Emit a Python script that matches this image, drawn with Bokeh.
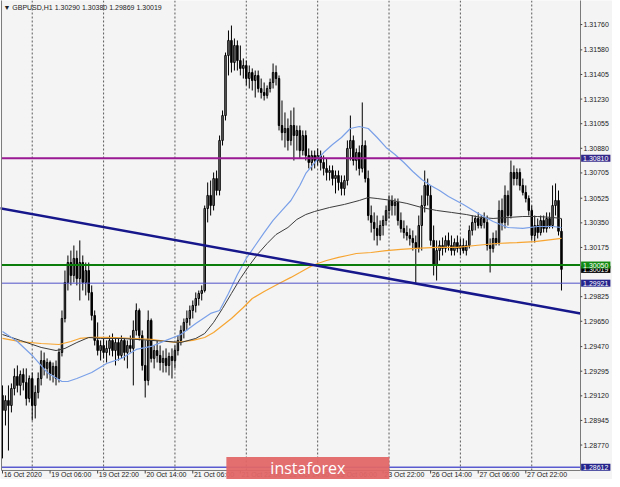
from bokeh.plotting import figure
from bokeh.models import Range1d, Label
from bokeh.core.properties import value
from bokeh.embed import file_html
from bokeh.resources import INLINE

# ---------------- data (GBPUSD H1, one bar per hour from 16 Oct 2020 14:00) ----------------
opens = [
    1.29123, 1.29016, 1.29087, 1.29051, 1.29172, 1.29258, 1.29194, 1.29272, 1.29215, 1.29101,
    1.29243, 1.29051, 1.29144, 1.29243, 1.29371, 1.29315, 1.29357, 1.29272, 1.29329, 1.29243,
    1.29428, 1.29670, 1.29926, 1.30068, 1.29976, 1.30097, 1.29954, 1.30068, 1.29926, 1.30011,
    1.29855, 1.29691, 1.29514, 1.29442, 1.29478, 1.29428, 1.29457, 1.29514, 1.29442, 1.29499,
    1.29407, 1.29514, 1.29428, 1.29478, 1.29457, 1.29585, 1.29727, 1.29549, 1.29336, 1.29229,
    1.29656, 1.29386, 1.29442, 1.29407, 1.29357, 1.29386, 1.29336, 1.29400, 1.29371, 1.29442,
    1.29514, 1.29585, 1.29642, 1.29670, 1.29727, 1.29762, 1.29812, 1.29848, 1.29869, 1.30452,
    1.30545, 1.30473, 1.30665, 1.30580, 1.30936, 1.31113, 1.31540, 1.31647, 1.31490, 1.31611,
    1.31504, 1.31448, 1.31469, 1.31376, 1.31419, 1.31362, 1.31398, 1.31305, 1.31277, 1.31256,
    1.31305, 1.31348, 1.31419, 1.31376, 1.31042, 1.30992, 1.31021, 1.30936, 1.31042, 1.30971,
    1.31007, 1.30864, 1.30971, 1.30829, 1.30779, 1.30829, 1.30793, 1.30829, 1.30779, 1.30737,
    1.30708, 1.30722, 1.30665, 1.30687, 1.30637, 1.30594, 1.30651, 1.30879, 1.30936, 1.30793,
    1.30850, 1.30737, 1.30900, 1.30665, 1.30402, 1.30353, 1.30310, 1.30260, 1.30331, 1.30367,
    1.30438, 1.30509, 1.30473, 1.30495, 1.30367, 1.30310, 1.30281, 1.30260, 1.30239, 1.30210,
    1.30168, 1.30331, 1.30473, 1.30616, 1.30545, 1.30225, 1.30047, 1.30153, 1.30189, 1.30168,
    1.30225, 1.30189, 1.30153, 1.30210, 1.30168, 1.30189, 1.30153, 1.30189, 1.30296, 1.30353,
    1.30381, 1.30331, 1.30381, 1.30353, 1.30189, 1.30168, 1.30239, 1.30210, 1.30438, 1.30353,
    1.30545, 1.30402, 1.30708, 1.30665, 1.30708, 1.30616, 1.30566, 1.30523, 1.30438, 1.30260,
    1.30331, 1.30281, 1.30367, 1.30310, 1.30381, 1.30331, 1.30473, 1.30509, 1.30290,
]
highs = [
    1.29194, 1.29123, 1.29194, 1.29208, 1.29315, 1.29336, 1.29300, 1.29315, 1.29315, 1.29265,
    1.29286, 1.29194, 1.29286, 1.29442, 1.29428, 1.29386, 1.29371, 1.29357, 1.29371, 1.29457,
    1.29727, 1.30011, 1.30118, 1.30153, 1.30189, 1.30153, 1.30225, 1.30118, 1.30068, 1.30068,
    1.29905, 1.29727, 1.29642, 1.29514, 1.29528, 1.29514, 1.29549, 1.29563, 1.29528, 1.29528,
    1.29549, 1.29528, 1.29514, 1.29549, 1.29656, 1.29777, 1.29741, 1.29585, 1.29514, 1.29727,
    1.29670, 1.29478, 1.29514, 1.29478, 1.29442, 1.29457, 1.29428, 1.29457, 1.29478, 1.29549,
    1.29620, 1.29670, 1.29727, 1.29762, 1.29798, 1.29855, 1.29869, 1.29905, 1.30473, 1.30637,
    1.30651, 1.30708, 1.30722, 1.30971, 1.31149, 1.31561, 1.31718, 1.31753, 1.31661, 1.31647,
    1.31611, 1.31519, 1.31504, 1.31469, 1.31448, 1.31433, 1.31433, 1.31376, 1.31348, 1.31327,
    1.31376, 1.31483, 1.31469, 1.31398, 1.31220, 1.31135, 1.31092, 1.31149, 1.31170, 1.31042,
    1.31042, 1.31007, 1.31007, 1.30879, 1.30864, 1.30864, 1.30879, 1.30864, 1.30829, 1.30808,
    1.30758, 1.30758, 1.30722, 1.30722, 1.30687, 1.30687, 1.30936, 1.31113, 1.30971, 1.30879,
    1.30900, 1.31206, 1.30936, 1.30722, 1.30473, 1.30424, 1.30402, 1.30367, 1.30402, 1.30473,
    1.30545, 1.30545, 1.30523, 1.30523, 1.30424, 1.30367, 1.30331, 1.30310, 1.30296, 1.30260,
    1.30402, 1.30545, 1.30722, 1.30665, 1.30616, 1.30331, 1.30225, 1.30225, 1.30246, 1.30260,
    1.30281, 1.30260, 1.30239, 1.30260, 1.30239, 1.30239, 1.30225, 1.30331, 1.30402, 1.30402,
    1.30424, 1.30402, 1.30424, 1.30402, 1.30239, 1.30281, 1.30296, 1.30509, 1.30523, 1.30616,
    1.30580, 1.30793, 1.30758, 1.30737, 1.30737, 1.30665, 1.30616, 1.30545, 1.30473, 1.30402,
    1.30381, 1.30402, 1.30402, 1.30424, 1.30424, 1.30616, 1.30630, 1.30580, 1.30380,
]
lows = [
    1.28675, 1.28909, 1.28731, 1.29002, 1.29123, 1.29144, 1.29123, 1.29158, 1.29051, 1.29073,
    1.28945, 1.28959, 1.29101, 1.29194, 1.29265, 1.29243, 1.29229, 1.29215, 1.29194, 1.29215,
    1.29400, 1.29642, 1.29869, 1.29905, 1.29926, 1.29905, 1.29798, 1.29869, 1.29834, 1.29798,
    1.29656, 1.29478, 1.29407, 1.29371, 1.29386, 1.29357, 1.29407, 1.29400, 1.29336, 1.29371,
    1.29386, 1.29371, 1.29315, 1.29428, 1.29194, 1.29549, 1.29514, 1.29300, 1.29108, 1.29194,
    1.29357, 1.29315, 1.29357, 1.29300, 1.29286, 1.29286, 1.29265, 1.29243, 1.29315, 1.29407,
    1.29478, 1.29528, 1.29585, 1.29620, 1.29670, 1.29713, 1.29762, 1.29798, 1.29855, 1.30353,
    1.30402, 1.30438, 1.30545, 1.30545, 1.30900, 1.31078, 1.31398, 1.31419, 1.31433, 1.31433,
    1.31398, 1.31376, 1.31327, 1.31305, 1.31291, 1.31241, 1.31277, 1.31234, 1.31220, 1.31234,
    1.31277, 1.31305, 1.31327, 1.31007, 1.30936, 1.30886, 1.30864, 1.30900, 1.30793, 1.30864,
    1.30808, 1.30829, 1.30793, 1.30737, 1.30722, 1.30737, 1.30758, 1.30722, 1.30687, 1.30651,
    1.30651, 1.30616, 1.30559, 1.30580, 1.30545, 1.30545, 1.30616, 1.30793, 1.30758, 1.30722,
    1.30687, 1.30708, 1.30637, 1.30367, 1.30281, 1.30225, 1.30189, 1.30225, 1.30260, 1.30331,
    1.30381, 1.30402, 1.30402, 1.30331, 1.30281, 1.30239, 1.30225, 1.30189, 1.30153, 1.29919,
    1.30139, 1.30153, 1.30424, 1.30473, 1.30189, 1.29976, 1.29940, 1.30082, 1.30118, 1.30139,
    1.30153, 1.30118, 1.30118, 1.30139, 1.30118, 1.30132, 1.30118, 1.30168, 1.30260, 1.30296,
    1.30310, 1.30310, 1.30310, 1.30153, 1.29997, 1.30139, 1.30189, 1.30189, 1.30296, 1.30310,
    1.30331, 1.30381, 1.30616, 1.30616, 1.30580, 1.30545, 1.30495, 1.30402, 1.30225, 1.30210,
    1.30239, 1.30260, 1.30281, 1.30281, 1.30310, 1.30310, 1.30402, 1.30260, 1.29869,
]
closes = [
    1.29016, 1.29087, 1.29051, 1.29172, 1.29258, 1.29194, 1.29272, 1.29215, 1.29101, 1.29243,
    1.29051, 1.29144, 1.29243, 1.29371, 1.29315, 1.29357, 1.29272, 1.29329, 1.29243, 1.29428,
    1.29670, 1.29926, 1.30068, 1.29976, 1.30097, 1.29954, 1.30068, 1.29926, 1.30011, 1.29855,
    1.29691, 1.29514, 1.29442, 1.29478, 1.29428, 1.29457, 1.29514, 1.29442, 1.29499, 1.29407,
    1.29514, 1.29428, 1.29478, 1.29457, 1.29585, 1.29727, 1.29549, 1.29336, 1.29229, 1.29656,
    1.29386, 1.29442, 1.29407, 1.29357, 1.29386, 1.29336, 1.29400, 1.29371, 1.29442, 1.29514,
    1.29585, 1.29642, 1.29670, 1.29727, 1.29762, 1.29812, 1.29848, 1.29869, 1.30452, 1.30545,
    1.30473, 1.30665, 1.30580, 1.30936, 1.31113, 1.31540, 1.31647, 1.31490, 1.31611, 1.31504,
    1.31448, 1.31469, 1.31376, 1.31419, 1.31362, 1.31398, 1.31305, 1.31277, 1.31256, 1.31305,
    1.31348, 1.31419, 1.31376, 1.31042, 1.30992, 1.31021, 1.30936, 1.31042, 1.30971, 1.31007,
    1.30864, 1.30971, 1.30829, 1.30779, 1.30829, 1.30793, 1.30829, 1.30779, 1.30737, 1.30708,
    1.30722, 1.30665, 1.30687, 1.30637, 1.30594, 1.30651, 1.30879, 1.30936, 1.30793, 1.30850,
    1.30737, 1.30900, 1.30665, 1.30402, 1.30353, 1.30310, 1.30260, 1.30331, 1.30367, 1.30438,
    1.30509, 1.30473, 1.30495, 1.30367, 1.30310, 1.30281, 1.30260, 1.30239, 1.30210, 1.30168,
    1.30331, 1.30473, 1.30616, 1.30545, 1.30225, 1.30047, 1.30153, 1.30189, 1.30168, 1.30225,
    1.30189, 1.30153, 1.30210, 1.30168, 1.30189, 1.30153, 1.30189, 1.30296, 1.30353, 1.30381,
    1.30331, 1.30381, 1.30353, 1.30189, 1.30168, 1.30239, 1.30210, 1.30438, 1.30353, 1.30545,
    1.30402, 1.30708, 1.30665, 1.30708, 1.30616, 1.30566, 1.30523, 1.30438, 1.30260, 1.30331,
    1.30281, 1.30367, 1.30310, 1.30381, 1.30331, 1.30473, 1.30509, 1.30290, 1.30019,
]

# moving averages (bar index, price)
ma_fast_bars = [0, 5, 10, 15, 20, 22, 25, 30, 35, 40, 45, 50, 55, 60, 65, 70, 73, 76, 79, 82,
                85, 88, 91, 94, 97, 100, 102, 105, 108, 111, 114, 117, 120, 123, 126, 129, 132, 135, 138, 141,
                144, 147, 150, 155, 160, 165, 170, 175, 180, 185, 188]
ma_fast_vals = [1.29578, 1.29506, 1.29407, 1.29286, 1.29222, 1.29222, 1.29243, 1.29286, 1.29350, 1.29386,
                1.29450, 1.29471, 1.29514, 1.29556, 1.29634, 1.29706, 1.29727, 1.29848, 1.29983, 1.30097,
                1.30189, 1.30281, 1.30367, 1.30438, 1.30509, 1.30616, 1.30701, 1.30779, 1.30850, 1.30907,
                1.30957, 1.31021, 1.31035, 1.31021, 1.30957, 1.30886, 1.30836, 1.30779, 1.30715, 1.30658,
                1.30616, 1.30580, 1.30537, 1.30481, 1.30417, 1.30360, 1.30317, 1.30310, 1.30324, 1.30324,
                1.30317]
ma_mid_bars = [0, 6, 13, 18, 21, 25, 29, 33, 40, 50, 56, 60, 65, 68, 71, 74, 77, 80, 83, 86,
               89, 92, 96, 99, 102, 105, 110, 115, 120, 123, 126, 131, 136, 141, 146, 151, 156, 161, 165, 170,
               175, 180, 185, 188]
ma_mid_vals = [1.29556, 1.29514, 1.29464, 1.29442, 1.29457, 1.29499, 1.29535, 1.29528, 1.29528, 1.29514,
               1.29506, 1.29499, 1.29528, 1.29563, 1.29642, 1.29741, 1.29848, 1.29954, 1.30047, 1.30132,
               1.30203, 1.30267, 1.30317, 1.30374, 1.30409, 1.30431, 1.30459, 1.30481, 1.30509, 1.30530,
               1.30523, 1.30509, 1.30488, 1.30459, 1.30438, 1.30424, 1.30409, 1.30388, 1.30381, 1.30388,
               1.30395, 1.30395, 1.30388, 1.30381]
ma_slow_bars = [0, 6, 13, 19, 23, 26, 30, 36, 43, 50, 58, 64, 68, 71, 74, 77, 81, 84, 88, 93,
                97, 100, 103, 106, 109, 113, 116, 119, 124, 129, 134, 139, 146, 153, 159, 166, 173, 179, 188]
ma_slow_vals = [1.29528, 1.29506, 1.29492, 1.29485, 1.29506, 1.29528, 1.29535, 1.29535, 1.29528, 1.29521,
                1.29499, 1.29514, 1.29535, 1.29570, 1.29620, 1.29670, 1.29748, 1.29812, 1.29862, 1.29919,
                1.29962, 1.29997, 1.30033, 1.30061, 1.30082, 1.30104, 1.30118, 1.30132, 1.30139, 1.30153,
                1.30161, 1.30168, 1.30175, 1.30175, 1.30189, 1.30203, 1.30210, 1.30217, 1.30239]

# horizontal levels and trend line (anchor bar, price)
level_prices = [1.30810, 1.30050, 1.29921, 1.28612]
trend_bars = [-1, 194.4]
trend_prices = [1.30454, 1.29706]

# day separators and time scale
day_bars = [10, 34, 58, 82, 106, 130, 154, 178]
time_tick_bars = [0, 16, 32, 48, 64, 80, 96, 112, 128, 144, 160, 176]
time_labels = ["16 Oct 2020", "19 Oct 06:00", "19 Oct 22:00", "20 Oct 14:00", "21 Oct 06:00",
               "21 Oct 22:00", "22 Oct 14:00", "23 Oct 06:00", "23 Oct 22:00", "26 Oct 14:00",
               "27 Oct 06:00", "27 Oct 22:00"]
price_ticks = [1.31760, 1.31580, 1.31405, 1.31230, 1.31055, 1.30880, 1.30705, 1.30525, 1.30350,
               1.30175, 1.29825, 1.29650, 1.29470, 1.29295, 1.29120, 1.28945, 1.28770]

# price tags on the right scale (drawn in this order)
tag_prices = [1.30810, 1.30019, 1.30050, 1.29921, 1.28612]
tag_colors = ["#33278a", "#000000", "#138a13", "#24248c", "#24248c"]

# ---------------- layout constants ----------------
X_START, X_END = -0.673, 205.16         # whole canvas, in bar units
Y_START, Y_END = 1.28525, 1.31931       # whole canvas, in price units
CHART_LEFT, CHART_RIGHT = -0.33, 194.4  # chart window edges (bar units)
CHART_BOTTOM = 1.28589                  # chart window bottom (price)
PPX = 0.0000711                         # price per screen pixel (approx.)
FONT = value("Liberation Sans")

p = figure(width=612, height=479, output_backend="svg", toolbar_location=None,
           x_range=Range1d(X_START, X_END), y_range=Range1d(Y_START, Y_END),
           x_axis_location=None, y_axis_location=None, min_border=0,
           background_fill_color="#f4f4f4", border_fill_color="#f4f4f4")
p.outline_line_color = None
p.grid.visible = False

# day separators
p.segment(x0=day_bars, x1=day_bars, y0=[CHART_BOTTOM] * len(day_bars), y1=[Y_END] * len(day_bars),
          line_color="#5a5a5a", line_dash="2 2", line_width=1)

# candles
bars = list(range(len(closes)))
body_top = [max(o, c) for o, c in zip(opens, closes)]
body_bot = [min(o, c) for o, c in zip(opens, closes)]
fills = ["#8c8c8c" if c >= o else "#000000" for o, c in zip(opens, closes)]
p.segment(x0=bars, y0=lows, x1=bars, y1=highs, line_color="#000000", line_width=1)
p.vbar(x=bars, top=body_top, bottom=body_bot, width=0.5, fill_color=fills,
       line_color="#000000", line_width=1)

# moving averages
p.line(ma_slow_bars, ma_slow_vals, line_color="#f7a531", line_width=1.2)
p.line(ma_mid_bars, ma_mid_vals, line_color="#3c3c3c", line_width=1)
p.line(ma_fast_bars, ma_fast_vals, line_color="#7aa0e8", line_width=1.2)

# horizontal levels
level_colors = ["#9a1a94", "#0a7d0a", "#5252c8", "#5a5ad0"]
level_widths = [2, 2, 1, 1.5]
for lv, lc, lw in zip(level_prices, level_colors, level_widths):
    p.segment(x0=[CHART_LEFT], x1=[CHART_RIGHT], y0=[lv], y1=[lv], line_color=lc, line_width=lw)

# trend line
p.line(trend_bars, trend_prices, line_color="#17178c", line_width=2.5)

# chart window border
p.quad(left=[CHART_LEFT], right=[CHART_RIGHT], bottom=[CHART_BOTTOM], top=[Y_END + 0.001],
       fill_color=None, line_color="#7a7a7a", line_width=1)

# price scale (right)
n = len(price_ticks)
p.segment(x0=[CHART_RIGHT] * n, x1=[CHART_RIGHT + 0.6] * n, y0=price_ticks, y1=price_ticks,
          line_color="#444444", line_width=1)
p.text(x=[CHART_RIGHT] * n, y=price_ticks, text=[f"{t:.5f}" for t in price_ticks],
       text_font=FONT, text_font_size=value("7px"), text_color="#222222",
       text_align="left", text_baseline="middle", x_offset=3)

# time scale (bottom)
m = len(time_tick_bars)
p.segment(x0=time_tick_bars, x1=time_tick_bars, y0=[CHART_BOTTOM] * m,
          y1=[CHART_BOTTOM - 3 * PPX] * m, line_color="#444444", line_width=1)
p.text(x=[t + 0.4 for t in time_tick_bars], y=[CHART_BOTTOM - 4 * PPX] * m, text=time_labels,
       text_font=FONT, text_font_size=value("7px"), text_color="#222222",
       text_align="left", text_baseline="middle")

# price tags
for tp, tc in zip(tag_prices, tag_colors):
    p.add_layout(Label(x=CHART_RIGHT + 0.2, y=tp, text=f"{tp:.5f}", text_align="left",
                       text_baseline="middle", text_font="Liberation Sans",
                       text_font_size="7px", text_color="#ffffff",
                       background_fill_color=tc, padding=(2, 1)))

# header
title = "\u25bc GBPUSD,H1  {:.5f} {:.5f} {:.5f} {:.5f}".format(opens[-1], highs[-1], lows[-1], closes[-1])
p.add_layout(Label(x=0.3, y=Y_END - 7 * PPX, text=title, text_align="left", text_baseline="middle",
                   text_font="Liberation Sans", text_font_size="7px", text_color="#222222"))

# watermark
p.add_layout(Label(x=102.7, y=CHART_BOTTOM + 2.5 * PPX, text="instaforex", text_align="center",
                   text_baseline="middle", text_font="Open Sans", text_font_size="16px",
                   text_color="#ffffff", background_fill_color="#e26767",
                   background_fill_alpha=0.95, padding=(44, 0)))

open("out.html", "w").write(file_html(p, INLINE))
